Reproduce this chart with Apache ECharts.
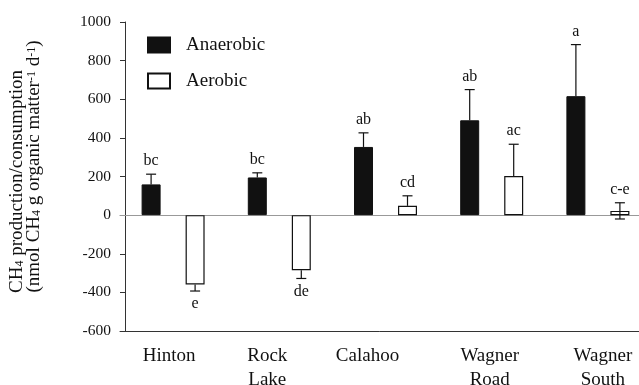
<!DOCTYPE html>
<html>
<head>
<meta charset="utf-8">
<script src="https://cdn.jsdelivr.net/npm/echarts@6/dist/echarts.min.js"></script>
<style>html,body{margin:0;padding:0;background:#fff;}#c{width:639px;height:385px;}</style>
</head>
<body>
<div id="c"></div>
<script>
// ---- data ----
const categories = ['Hinton', 'Rock\nLake', 'Calahoo', 'Wagner\nRoad', 'Wagner\nSouth'];
const anaerobic = [159, 195, 353, 491, 616];
const anaerobicErr = [53, 24, 73, 159, 267];
const anaerobicErrInner = [0, 0, 0, 0, 0];
const anaerobicLetters = ['bc', 'bc', 'ab', 'ab', 'a'];
const aerobic = [-359, -285, 48, 202, 22];
const aerobicErr = [34, 43, 52, 165, 42];
const aerobicErrInner = [0, 0, 0, 0, 42];
const aerobicLetters = ['e', 'de', 'cd', 'ac', 'c-e'];
const yTicks = [-600, -400, -200, 0, 200, 400, 600, 800, 1000];

// ---- style ----
const FONT = 'Liberation Serif';
const BAR_W = 19;
const BAR_GAP_PX = 25;
const OFFSET = (BAR_W + BAR_GAP_PX) / 2;
const labelShift = [-4, -12, -18, -2, 5];

function makeErrSeries(values, errs, inner, letters, side) {
  return {
    type: 'custom',
    z: 5,
    silent: true,
    data: values.map((v, i) => [i, v, errs[i], inner[i]]),
    renderItem: function (params, api) {
      const i = api.value(0), v = api.value(1), e = api.value(2), inn = api.value(3);
      const sign = v >= 0 ? 1 : -1;
      const base = api.coord([i, v]);
      const x = base[0] + side * OFFSET;
      const yEnd = api.coord([i, v + sign * e])[1];
      const st = { stroke: '#111', lineWidth: 1.2 };
      const ch = [
        { type: 'line', shape: { x1: x, y1: base[1], x2: x, y2: yEnd }, style: st },
        { type: 'line', shape: { x1: x - 5, y1: yEnd, x2: x + 5, y2: yEnd }, style: st }
      ];
      if (inn > 0) {
        const yIn = api.coord([i, v - sign * inn])[1];
        ch.push({ type: 'line', shape: { x1: x, y1: base[1], x2: x, y2: yIn }, style: st });
        ch.push({ type: 'line', shape: { x1: x - 5, y1: yIn, x2: x + 5, y2: yIn }, style: st });
      }
      const up = sign > 0;
      ch.push({
        type: 'text',
        style: {
          x: x, y: yEnd + (up ? -5 : 5),
          text: letters[params.dataIndex],
          fill: '#111',
          font: '16px "' + FONT + '"',
          align: 'center',
          verticalAlign: up ? 'bottom' : 'top'
        }
      });
      return { type: 'group', children: ch };
    }
  };
}

const rich = {};
labelShift.forEach((s, i) => {
  rich['c' + i] = {
    fontFamily: FONT, fontSize: 19, color: '#111', lineHeight: 24,
    padding: s < 0 ? [0, -2 * s, 0, 0] : [0, 0, 0, 2 * s]
  };
});

const chart = echarts.init(document.getElementById('c'));
chart.setOption({
  animation: false,
  backgroundColor: '#fff',
  textStyle: { fontFamily: FONT },
  grid: { left: 120, width: 531, top: 22, bottom: 54, containLabel: false, outerBoundsMode: 'none' },
  legend: {
    orient: 'vertical', left: 142, top: 30, itemWidth: 22, itemHeight: 15, itemGap: 16,
    icon: 'rect',
    textStyle: { fontFamily: FONT, fontSize: 19, color: '#111', lineHeight: 20, padding: [0, 0, 0, 11] },
    data: ['Anaerobic', 'Aerobic']
  },
  xAxis: [{
    type: 'category', data: categories, position: 'bottom',
    axisLine: { onZero: false, lineStyle: { color: '#333', width: 1 } },
    axisTick: { show: false },
    axisLabel: {
      margin: 13, interval: 0,
      formatter: function (val, idx) {
        return val.split('\n').map(p => '{c' + idx + '|' + p + '}').join('\n');
      },
      rich: rich
    }
  }, {
    type: 'category', data: categories, position: 'top',
    axisLine: { show: true, lineStyle: { color: '#888', width: 1 } },
    axisTick: { show: false }, axisLabel: { show: false }
  }],
  yAxis: {
    type: 'value', min: -600, max: 1000, interval: 200, offset: -5,
    axisLine: { show: true, lineStyle: { color: '#333', width: 1 } },
    axisTick: { show: true, length: 5, lineStyle: { color: '#333' } },
    splitLine: { show: false },
    axisLabel: {
      fontFamily: FONT, fontSize: 15.5, color: '#111', margin: 14,
      formatter: v => String(v)
    },
    name: '{t|CH}{sub|4}{t1e| production/consumption}\n{t2s|(nmol CH}{sub|4}{t| g organic matter}{sup|-1}{t| d}{sup|-1}{t|)}',
    nameLocation: 'middle', nameRotate: 90, nameGap: 82,
    nameTextStyle: {
      rich: {
        t: { fontFamily: FONT, fontSize: 19, color: '#111', lineHeight: 17 },
        t1e: { fontFamily: FONT, fontSize: 19, color: '#111', lineHeight: 17, padding: [0, 10, 0, 0] },
        t2s: { fontFamily: FONT, fontSize: 19, color: '#111', lineHeight: 17, padding: [0, 0, 0, 20] },
        sub: { fontFamily: FONT, fontSize: 12, color: '#111', lineHeight: 6, verticalAlign: 'bottom' },
        sup: { fontFamily: FONT, fontSize: 12, color: '#111', lineHeight: 8, verticalAlign: 'top' }
      }
    }
  },
  series: [{
    name: 'Anaerobic', type: 'bar', data: anaerobic, barWidth: BAR_W,
    barGap: (BAR_GAP_PX / BAR_W * 100) + '%',
    itemStyle: { color: '#111', borderColor: '#111', borderWidth: 1 },
    markLine: {
      silent: true, symbol: 'none', label: { show: false },
      lineStyle: { color: '#999', width: 1, type: 'solid' },
      data: [{ yAxis: 0 }], z: 1
    }
  }, {
    name: 'Aerobic', type: 'bar', data: aerobic, barWidth: BAR_W,
    itemStyle: { color: '#fff', borderColor: '#111', borderWidth: 1.2 }
  },
  makeErrSeries(anaerobic, anaerobicErr, anaerobicErrInner, anaerobicLetters, -1),
  makeErrSeries(aerobic, aerobicErr, aerobicErrInner, aerobicLetters, 1)
  ]
});
</script>
</body>
</html>
